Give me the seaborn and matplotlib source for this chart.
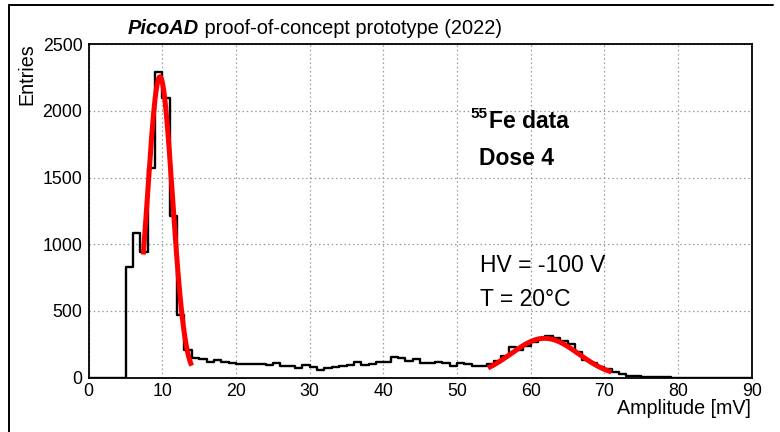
import numpy as np
import pandas as pd
import matplotlib
matplotlib.use("Agg")
import matplotlib.pyplot as plt
from matplotlib.lines import Line2D
from matplotlib.ticker import MultipleLocator
import seaborn as sns

# ---------------- data ----------------
bin_start = 0.0
bin_width = 1.0
entries = [0, 0, 0, 0, 0,
           826, 1086, 939, 1571, 2291, 2096, 1211, 469, 203, 144,
           136, 119, 131, 114, 106, 99, 101, 101, 99, 94,
           106, 86, 86, 69, 91, 79, 56, 71, 81, 86,
           91, 116, 94, 99, 116, 116, 156, 144, 126, 141,
           110, 111, 116, 106, 89, 106, 99, 89, 89, 99,
           122, 165, 228, 210, 240, 270, 295, 310, 297, 272,
           252, 195, 135, 112, 80, 62, 42, 25, 12, 8,
           6, 4, 2, 1, 0, 0, 0, 0, 0, 0,
           0, 0, 0, 0, 0]

# Gaussian fits: amplitude, mean, sigma, range
fit1_amp, fit1_mean, fit1_sigma = 2256.0, 9.67, 1.69
fit1_range = [7.41, 13.97]
fit2_amp, fit2_mean, fit2_sigma = 294.0, 61.9, 4.58
fit2_range = [54.2, 70.96]

title_bold = "PicoAD"
title_rest = " proof-of-concept prototype (2022)"
xlabel = "Amplitude [mV]"
ylabel = "Entries"
xticks = [0, 10, 20, 30, 40, 50, 60, 70, 80, 90]
yticks = [0, 500, 1000, 1500, 2000, 2500]

# ---------------- figure ----------------
sns.set_style("white")
plt.rcParams["font.family"] = ["Liberation Sans", "DejaVu Sans"]
plt.rcParams["text.color"] = "black"
plt.rcParams["axes.labelcolor"] = "black"
plt.rcParams["xtick.color"] = "black"
plt.rcParams["ytick.color"] = "black"

W, H = 780, 432
fig = plt.figure(figsize=(W / 100, H / 100), dpi=100)

def fx(px):
    return px / W

def fy(py):
    return 1 - py / H

ax_l, ax_r, ax_t, ax_b = 88.7, 751.7, 44.3, 377.5
ax = fig.add_axes([fx(ax_l), fy(ax_b), fx(ax_r) - fx(ax_l), fy(ax_t) - fy(ax_b)])

nb = len(entries)
edges = bin_start + bin_width * np.arange(nb + 1)
centers = edges[:-1] + bin_width / 2
hist_df = pd.DataFrame({"amplitude": centers, "entries": entries})

sns.histplot(data=hist_df, x="amplitude", weights="entries",
             binwidth=bin_width, binrange=(edges[0], edges[-1]),
             element="step", fill=False, color="black", linewidth=1.7, ax=ax)

for amp, mu, sg, rng in [(fit1_amp, fit1_mean, fit1_sigma, fit1_range),
                         (fit2_amp, fit2_mean, fit2_sigma, fit2_range)]:
    xf = np.linspace(rng[0], rng[1], 200)
    yf = amp * np.exp(-0.5 * ((xf - mu) / sg) ** 2)
    sns.lineplot(x=xf, y=yf, color="#ff0000", linewidth=3.6, ax=ax,
                 estimator=None, sort=False, solid_capstyle="butt")

ax.set_xlim(0, 90)
ax.set_ylim(0, 2500)
ax.set_xticks(xticks)
ax.set_yticks(yticks)
ax.xaxis.set_minor_locator(MultipleLocator(2))
ax.yaxis.set_minor_locator(MultipleLocator(100))
ax.grid(True, which="major", linestyle=(0, (1.2, 2.2)), color="#9a9a9a", linewidth=0.9)
ax.set_axisbelow(True)

ax.tick_params(axis="x", which="major", direction="in", length=8.6, width=1.0,
               labelsize=12.8, pad=4, colors="black")
ax.tick_params(axis="x", which="minor", direction="in", length=4.3, width=1.0, colors="black")
ax.tick_params(axis="y", which="major", direction="in", length=13, width=1.0,
               labelsize=12.8, pad=4.5, colors="black")
ax.tick_params(axis="y", which="minor", direction="in", length=6.5, width=1.0, colors="black")
ax.tick_params(top=False, right=False, which="both")
for s in ax.spines.values():
    s.set_color("black")
    s.set_linewidth(1.3)

ax.set_xlabel("")
ax.set_ylabel("")
fig.text(fx(751), fy(414), xlabel, ha="right", va="baseline", fontsize=14.2, color="black")
fig.text(fx(32), fy(43), ylabel, ha="right", va="baseline", rotation=90,
         fontsize=14.2, rotation_mode="anchor", color="black")

# title
t1 = fig.text(fx(128), fy(34), title_bold, ha="left", va="baseline", color="black",
              fontsize=14.4, fontweight="bold", fontstyle="italic")
fig.canvas.draw()
bb = t1.get_window_extent()
fig.text(bb.x1 / W, fy(34), title_rest, ha="left", va="baseline", fontsize=14.4, color="black")

# annotations
fig.text(fx(470), fy(118), "55", ha="left", va="baseline", fontsize=11, fontweight="bold", color="black")
fig.text(fx(489), fy(128), "Fe data", ha="left", va="baseline", fontsize=16.5, fontweight="bold", color="black")
fig.text(fx(479), fy(165), "Dose 4", ha="left", va="baseline", fontsize=16.5, fontweight="bold", color="black")
fig.text(fx(480), fy(272), "HV = -100 V", ha="left", va="baseline", fontsize=16.5, color="black")
fig.text(fx(480), fy(306), "T = 20°C", ha="left", va="baseline", fontsize=16.5, color="black")

# canvas frame
fig.add_artist(Line2D([fx(9), fx(9)], [fy(5), fy(432)], color="black", linewidth=1.4))
fig.add_artist(Line2D([fx(9), fx(773)], [fy(5), fy(5)], color="black", linewidth=1.4))

fig.savefig("out.png", dpi=100)
